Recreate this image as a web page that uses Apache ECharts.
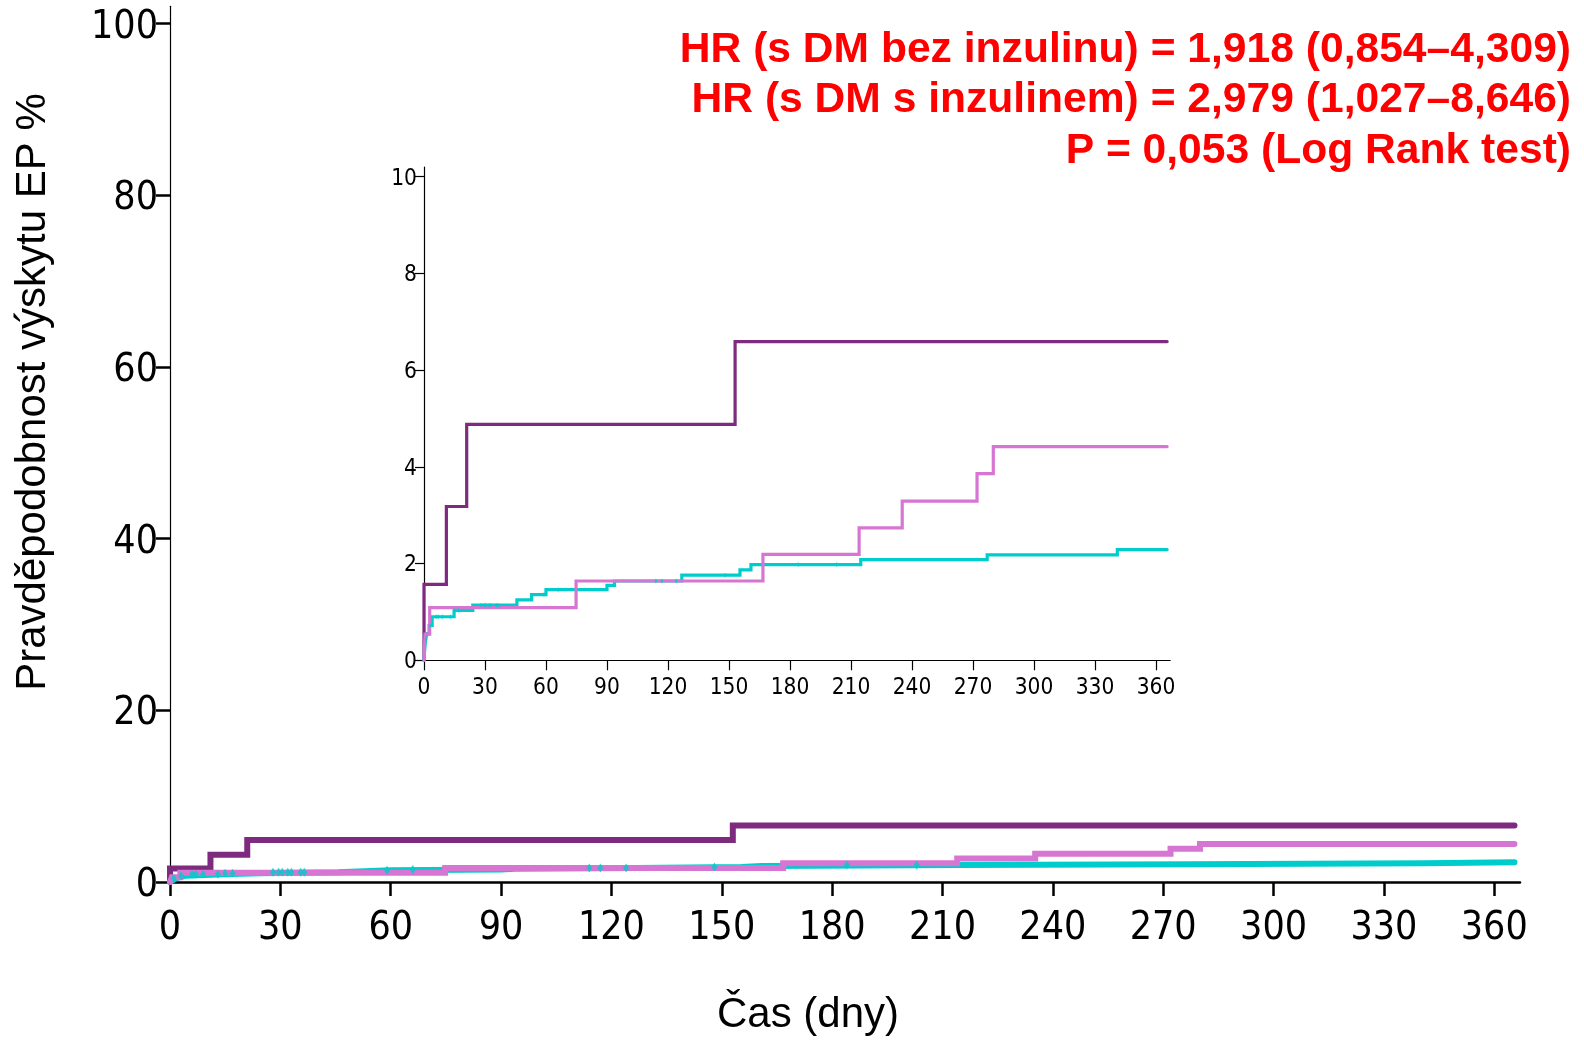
<!DOCTYPE html>
<html><head><meta charset="utf-8">
<script src="https://cdn.jsdelivr.net/npm/echarts@6/dist/echarts.min.js"></script>
<style>html,body{margin:0;padding:0;background:#fff}#c{width:1584px;height:1040px}</style>
</head><body><div id="c"></div>
<script>
// ---------- data ----------
const xTickValues = [0, 30, 60, 90, 120, 150, 180, 210, 240, 270, 300, 330, 360];
const mainYTickValues = [0, 20, 40, 60, 80, 100];
const insetYTickValues = [0, 2, 4, 6, 8, 10];

// DM s inzulinem (dark purple)
const purpleTimes  = [0, 0,    11,   21,   153,  365.5];
const purpleValues = [0, 1.57, 3.18, 4.88, 6.59, 6.59];

// DM bez inzulinu (pink)
const pinkTimes  = [0, 0.5,  2.8,  74.8, 166.7, 214,  235.2, 272,  280,  365.5];
const pinkValues = [0, 0.54, 1.09, 1.64, 2.19,  2.74, 3.29,  3.86, 4.42, 4.42];

// bez DM (cyan)
const cyanTimes  = [0, 0.3, 0.8,  1.5,  2.5,  4,   14.8, 24,   45.7, 52.9, 60,   90,   93.7, 126.8, 155.4, 160.8, 214.8, 277,  341,  365.5];
const cyanValues = [0, 0.2, 0.43, 0.55, 0.72, 0.9, 1.03, 1.14, 1.25, 1.36, 1.46, 1.55, 1.64, 1.76,  1.87,  1.98,  2.08,  2.18, 2.29, 2.29];

// censored observations on the cyan curve (days)
const cyanCensorTimes = [1, 3, 6, 7, 9, 13, 15, 17, 28, 29.5, 30.5, 32, 33, 35.5, 36.5, 59, 66, 114, 117, 124, 148, 184, 203];

const annotationLines = [
  'HR (s DM bez inzulinu) = 1,918 (0,854–4,309)',
  'HR (s DM s inzulinem) = 2,979 (1,027–8,646)',
  'P = 0,053 (Log Rank test)'
];
const yAxisTitle = 'Pravděpodobnost výskytu EP %';
const xAxisTitle = 'Čas (dny)';

// ---------- helpers ----------
function fontAvailable(name){
  const ctx = document.createElement('canvas').getContext('2d');
  const s = 'mmmmwwwwiiii0123456789';
  ctx.font = '40px monospace'; const a = ctx.measureText(s).width;
  ctx.font = "40px '" + name + "', monospace"; const b = ctx.measureText(s).width;
  return Math.abs(a - b) > 0.5;
}
const narrow = fontAvailable('Liberation Sans Narrow') ? 'Liberation Sans Narrow'
             : (fontAvailable('DejaVu Sans Condensed') ? 'DejaVu Sans Condensed' : null);
const tickFont = narrow || 'Liberation Sans';
const mainTickSize = narrow ? 39 : 31;
const insetTickSize = narrow ? 22.5 : 18;

function pairs(t, v){ return t.map((x, i) => [x, v[i]]); }
function stepLookup(t, v, x){ let y = v[0]; for (let i = 0; i < t.length; i++){ if (t[i] <= x) y = v[i]; } return y; }

const colors = { purple: '#7e2a7e', pink: '#d676d2', cyan: '#00cccc' };

const chart = echarts.init(document.getElementById('c'), null, { renderer: 'canvas' });

function xAxisDef(gi, lw, tlen, fs, margin){
  return {
    type: 'value', gridIndex: gi, min: 0, max: 367,
    axisLine: { show: true, lineStyle: { color: '#000', width: lw } },
    axisTick: { show: true, customValues: xTickValues, length: tlen, lineStyle: { color: '#000', width: lw } },
    axisLabel: { customValues: xTickValues, color: '#000', fontSize: fs, fontFamily: tickFont, margin: margin },
    splitLine: { show: false }
  };
}
function yAxisDef(gi, max, ticks, lw, tlw, tlen, fs, margin, padTop){
  return {
    type: 'value', gridIndex: gi, min: 0, max: max,
    axisLine: { show: true, lineStyle: { color: '#000', width: lw } },
    axisTick: { show: true, customValues: ticks, length: tlen, lineStyle: { color: '#000', width: tlw } },
    axisLabel: {
      customValues: ticks, color: '#000', fontSize: fs, fontFamily: tickFont, margin: margin,
      formatter: '{v|{value}}',
      rich: { v: { color: '#000', fontSize: fs, fontFamily: tickFont, padding: [padTop, 0, 0, 0] } }
    },
    splitLine: { show: false }
  };
}
function lineSeries(ai, t, v, color, w){
  return {
    type: 'line', xAxisIndex: ai, yAxisIndex: ai, step: 'end', symbol: 'none', showSymbol: false,
    data: pairs(t, v), lineStyle: { color: color, width: w, cap: 'round', join: 'miter' },
    itemStyle: { color: color }, silent: true, animation: false
  };
}
function censorSeries(ai, size){
  return {
    type: 'scatter', xAxisIndex: ai, yAxisIndex: ai, symbol: 'diamond', symbolSize: size,
    data: cyanCensorTimes.map(x => [x, stepLookup(cyanTimes, cyanValues, x)]),
    itemStyle: { color: colors.cyan }, silent: true, animation: false, z: 5
  };
}

const titleFont = "42px 'Liberation Sans', Arial, sans-serif";
const noteFont = "bold 42.6px 'Liberation Sans', Arial, sans-serif";

const option = {
  backgroundColor: '#fff',
  animation: false,
  grid: [
    { left: 170, top: 6.3, width: 1350, height: 875.7 },
    { left: 424, top: 167, width: 746.2, height: 493.3 }
  ],
  xAxis: [ xAxisDef(0, 2.5, 14, mainTickSize, 27), xAxisDef(1, 1.2, 10, insetTickSize, 16) ],
  yAxis: [ yAxisDef(0, 102, mainYTickValues, 1.2, 2.5, 14, mainTickSize, 12, 8),
           yAxisDef(1, 10.2, insetYTickValues, 1.2, 1.2, 9, insetTickSize, 7, 4) ],
  series: [
    lineSeries(0, purpleTimes, purpleValues, colors.purple, 6),
    lineSeries(0, cyanTimes, cyanValues, colors.cyan, 6),
    lineSeries(0, pinkTimes, pinkValues, colors.pink, 6),
    censorSeries(0, [6, 9]),
    lineSeries(1, purpleTimes, purpleValues, colors.purple, 3.2),
    lineSeries(1, cyanTimes, cyanValues, colors.cyan, 3.2),
    lineSeries(1, pinkTimes, pinkValues, colors.pink, 3.2),
    censorSeries(1, [3, 5])
  ],
  graphic: [
    { type: 'text', x: 33, y: 392, rotation: Math.PI / 2,
      style: { text: yAxisTitle, font: titleFont, fill: '#000', textAlign: 'center', textVerticalAlign: 'middle' } },
    { type: 'text', x: 808, y: 1015,
      style: { text: xAxisTitle, font: titleFont, fill: '#000', textAlign: 'center', textVerticalAlign: 'middle' } },
    { type: 'text', x: 1571, y: 50,
      style: { text: annotationLines[0], font: noteFont, fill: '#ff0000', textAlign: 'right', textVerticalAlign: 'middle' } },
    { type: 'text', x: 1571, y: 100.5,
      style: { text: annotationLines[1], font: noteFont, fill: '#ff0000', textAlign: 'right', textVerticalAlign: 'middle' } },
    { type: 'text', x: 1571, y: 151,
      style: { text: annotationLines[2], font: noteFont, fill: '#ff0000', textAlign: 'right', textVerticalAlign: 'middle' } }
  ]
};
chart.setOption(option);
</script></body></html>
